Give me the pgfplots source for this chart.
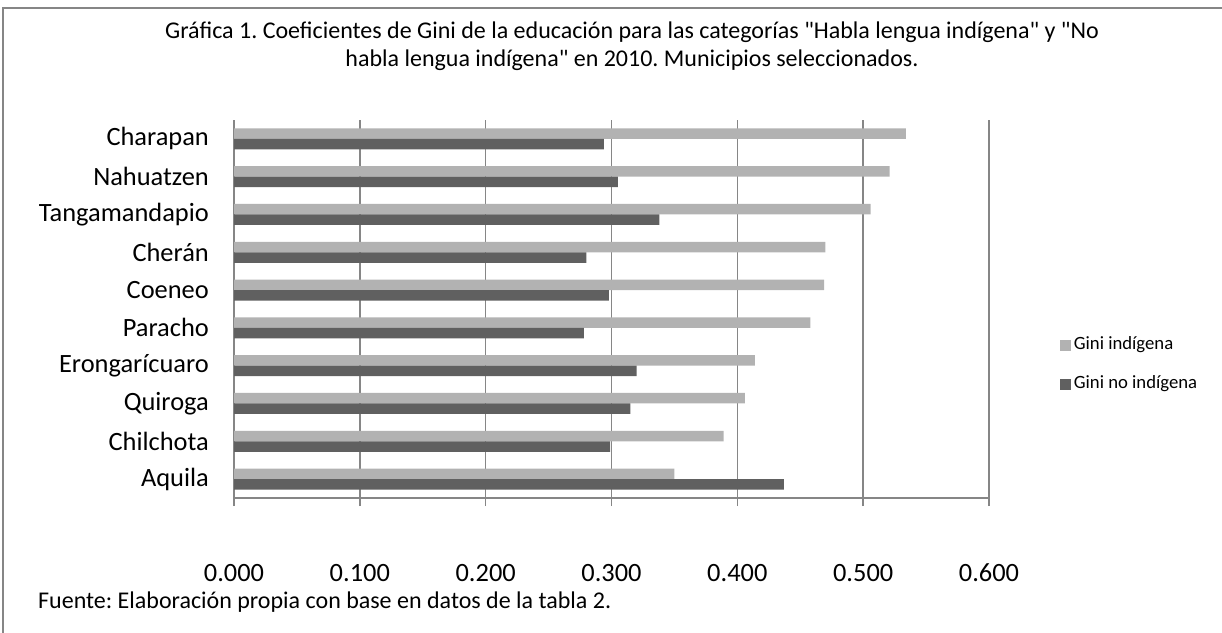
\documentclass[border=0pt]{standalone}
\usepackage{fontspec}
\setmainfont{Carlito}[Ligatures=TeXOff]
\usepackage{pgfplots}
\pgfplotsset{compat=1.18}
\definecolor{lightbar}{RGB}{178,178,178}
\definecolor{darkbar}{RGB}{96,96,96}
\definecolor{gridgray}{RGB}{134,134,134}
\frenchspacing
\begin{document}
\begin{tikzpicture}[x=1pt,y=1pt]
\useasboundingbox (0,0) rectangle (1222,632);
\draw[gridgray, line width=1.5pt] (3,-10) -- (3,624) -- (1240,624);
\node[font=\fontsize{24}{28.3}\selectfont, align=center, inner sep=0pt] at (632,586)
  {Gráfica 1. Coeficientes de Gini de la educación para las categorías "Habla lengua indígena" y "No\\habla lengua indígena" en 2010. Municipios seleccionados.};
\node[font=\fontsize{24}{28}\selectfont, anchor=west, inner sep=0pt] at (38,30)
  {Fuente: Elaboración propia con base en datos de la tabla 2.};
\begin{axis}[
  at={(234pt,134pt)}, anchor=south west,
  scale only axis, width=755pt, height=378pt,
  xbar,
  xmin=0, xmax=0.6, ymin=-0.5, ymax=9.5,
  xtick={0,0.1,...,0.6},
  ytick={0,...,9},
  yticklabels={Aquila,Chilchota,Quiroga,Erongarícuaro,Paracho,Coeneo,Cherán,Tangamandapio,Nahuatzen,Charapan},
  axis x line*=bottom, axis y line*=left,
  axis line style={gridgray, line width=1.5pt, -},
  xmajorgrids, major grid style={gridgray, line width=1.5pt},
  xtick align=outside, major tick length=8pt,
  x tick style={gridgray, line width=1.5pt},
  y tick style={draw=none},
  ticklabel style={font=\fontsize{26.4}{30}\selectfont},
  xticklabel style={/pgf/number format/.cd, fixed, fixed zerofill, precision=3, assume math mode=true, /tikz/.cd, inner sep=0pt, text height=20pt, text depth=0pt, yshift=-55pt},
  yticklabel style={inner sep=0pt, xshift=-17pt},
  legend style={at={(axis description cs:1.094,0.352)}, anchor=west, draw=none, fill=none,
    font=\fontsize{18.7}{22}\selectfont, inner sep=0pt, row sep=21pt,
    nodes={inner sep=0pt, text height=13pt, text depth=4.5pt}},
  legend cell align=left,
  /tikz/every odd column/.append style={column sep=3pt},
  legend image code/.code={\fill[#1] (0pt,-5.35pt) rectangle (10.7pt,5.35pt);},
]
\addplot[xbar, bar width=10.5pt, bar shift=5.25pt, fill=lightbar, draw=none] coordinates {
  (0.534,9) (0.521,8) (0.506,7) (0.470,6) (0.469,5) (0.458,4) (0.414,3) (0.406,2) (0.389,1) (0.350,0)
};
\addlegendentry{Gini indígena}
\addplot[xbar, bar width=10.5pt, bar shift=-5.25pt, fill=darkbar, draw=none] coordinates {
  (0.294,9) (0.305,8) (0.338,7) (0.280,6) (0.298,5) (0.278,4) (0.320,3) (0.315,2) (0.299,1) (0.437,0)
};
\addlegendentry{Gini no indígena}
\end{axis}
\end{tikzpicture}
\end{document}
